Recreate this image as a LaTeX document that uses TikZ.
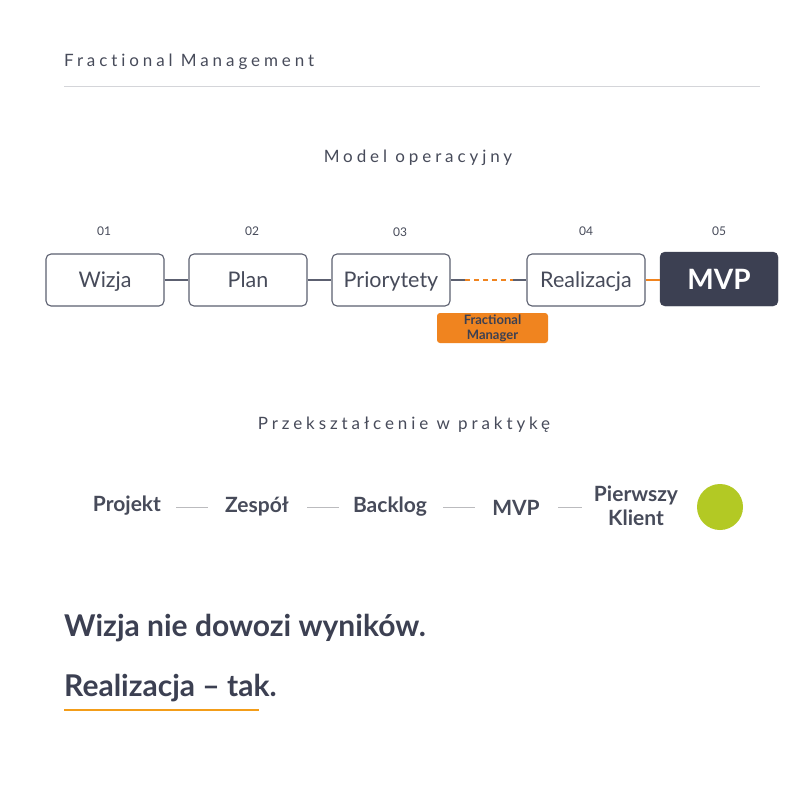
\documentclass[tikz,border=0pt]{standalone}
\usepackage{fontspec}
\setmainfont{Lato}
\newfontfamily\spacedfont[LetterSpace=23, Ligatures={NoCommon,NoDiscretionary,NoRare}]{Lato}
\definecolor{txt}{HTML}{474B5A}
\definecolor{dark}{HTML}{3C4052}
\definecolor{orng}{HTML}{F0841F}
\definecolor{lgray}{HTML}{D4D5D9}
\definecolor{grn}{HTML}{B3C924}
\definecolor{boxline}{HTML}{5C6070}
\tikzset{
  stepbox/.style={draw=boxline, line width=1.1pt, rounded corners=5pt, minimum width=118pt, minimum height=52pt, inner sep=0pt, text height=15pt, text depth=0pt, text=txt, font=\fontsize{21.5}{23}\selectfont},
  mvpbox/.style={fill=dark, draw=dark, rounded corners=5pt, minimum width=118pt, minimum height=54pt, inner sep=0pt, text=white, font=\fontsize{28}{30}\selectfont\bfseries},
  numlbl/.style={text=txt, font=\fontsize{12}{13}\selectfont},
  link/.style={draw=boxline, line width=1.1pt},
  olink/.style={draw=orng, line width=2pt},
  rowtxt/.style={text=txt, font=\fontsize{21}{24}\selectfont\bfseries, align=center},
  rowdash/.style={draw=lgray!70!gray, line width=1pt},
  spaced/.style={text=txt, font=\fontsize{17}{18}\selectfont\spacedfont},
  headline/.style={text=dark, font=\fontsize{30}{32}\selectfont\bfseries, anchor=west, inner sep=0pt},
}
\begin{document}
\begin{tikzpicture}[x=1pt,y=-1pt]
\useasboundingbox[fill=white] (0,0) rectangle (800,800);
% header
\node[spaced, anchor=west, inner sep=0pt] (hdr) at (64,62) {Fractional Management};
\coordinate (hl1) at (64,86);
\coordinate (hl2) at (760,86);
\draw[lgray, line width=1pt] (hl1) -- (hl2);
\node[spaced] (model) at (418,158) {Model operacyjny};
% numbers
\node[numlbl] (n1) at (104,231) {01};
\node[numlbl] (n2) at (252,231) {02};
\node[numlbl] (n3) at (400,232) {03};
\node[numlbl] (n4) at (586,231) {04};
\node[numlbl] (n5) at (719,231) {05};
% boxes
\node[stepbox] (b1) at (105,280) {Wizja};
\node[stepbox] (b2) at (248,280) {Plan};
\node[stepbox] (b3) at (391,280) {Priorytety};
\node[stepbox] (b4) at (586,280) {Realizacja};
\node[mvpbox] (b5) at (719,279) {MVP};
\draw[link] (b1.east) -- (b2.west);
\draw[link] (b2.east) -- (b3.west);
\coordinate (d1) at (465,280);
\coordinate (d2) at (513,280);
\draw[link] (b3.east) -- (d1);
\draw[draw=orng, line width=1.1pt, dash pattern=on 5pt off 4pt] (d1) -- (d2);
\draw[link] (d2) -- (b4.west);
\draw[olink] (b4.east) -- (b5.west |- b4.east);
\node[fill=orng, rounded corners=3pt, minimum width=111pt, minimum height=30pt, inner sep=0pt, text=dark, font=\fontsize{13}{15}\selectfont\bfseries, align=center] (fm) at (492.5,328) {Fractional\\Manager};
% second section
\node[spaced] (prz) at (404,425) {Przekształcenie w praktykę};
\node[rowtxt] (r1) at (127,506) {Projekt};
\node[rowtxt] (r2) at (257,506) {Zespół};
\node[rowtxt] (r3) at (390,507) {Backlog};
\node[rowtxt] (r4) at (516,508) {MVP};
\node[rowtxt] (r5) at (636,506) {Pierwszy\\Klient};
\node[circle, fill=grn, minimum size=46pt, inner sep=0pt] (dot) at (720,507) {};
\coordinate (a1) at (176,507); \coordinate (a2) at (208,507);
\coordinate (c1) at (307,507); \coordinate (c2) at (339,507);
\coordinate (e1) at (443,507); \coordinate (e2) at (475,507);
\coordinate (f1) at (558,507); \coordinate (f2) at (582,507);
\draw[rowdash] (a1) -- (a2);
\draw[rowdash] (c1) -- (c2);
\draw[rowdash] (e1) -- (e2);
\draw[rowdash] (f1) -- (f2);
% headlines
\node[headline] (h1) at (64,628) {Wizja nie dowozi wyników.};
\node[headline] (h2) at (64,688) {Realizacja – tak.};
\coordinate (u1) at (64,710);
\coordinate (u2) at (259,710);
\draw[draw=orng!80!yellow, line width=2pt] (u1) -- (u2);
\end{tikzpicture}
\end{document}
